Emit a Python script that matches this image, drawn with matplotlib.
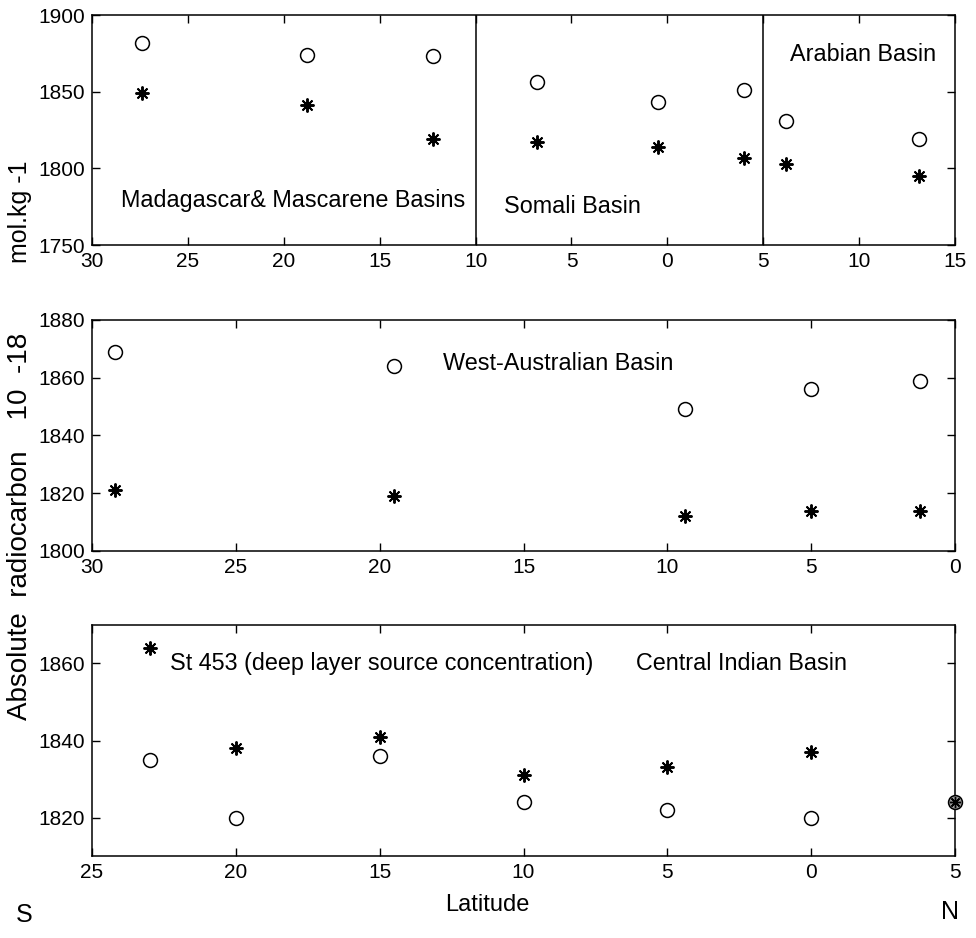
import matplotlib
matplotlib.use("Agg")
import matplotlib.pyplot as plt

# latitude: south negative, north positive
# top panel: Madagascar/Mascarene, Somali, Arabian basins
lat1 = [-27.4, -18.8, -12.2, -6.8, -0.5, 4.0, 6.2, 13.1]
circ1 = [1882, 1874, 1873, 1856, 1843, 1851, 1831, 1819]
star1 = [1849, 1841, 1819, 1817, 1814, 1807, 1803, 1795]

# middle panel: West-Australian basin
lat2 = [-29.2, -19.5, -9.4, -5.0, -1.2]
circ2 = [1869, 1864, 1849, 1856, 1859]
star2 = [1821, 1819, 1812, 1814, 1814]

# bottom panel: Central Indian basin
lat3 = [-23.0, -20.0, -15.0, -10.0, -5.0, 0.0]
circ3 = [1835, 1820, 1836, 1824, 1822, 1820]
star3 = [1864, 1838, 1841, 1831, 1833, 1837]
both_lat = [5.0]
both_val = [1824]

ticks1 = [-30, -25, -20, -15, -10, -5, 0, 5, 10, 15]
ticks2 = [-30, -25, -20, -15, -10, -5, 0]
ticks3 = [-25, -20, -15, -10, -5, 0, 5]
basin_edges = [-10, 5]

plt.rcParams["font.family"] = ["Liberation Sans", "DejaVu Sans"]

fig = plt.figure(figsize=(9.76, 9.38), dpi=100)
ax1 = fig.add_axes([0.0943, 0.7388, 0.8842, 0.2452])
ax2 = fig.add_axes([0.0943, 0.4126, 0.8842, 0.2463])
ax3 = fig.add_axes([0.0943, 0.0874, 0.8842, 0.2463])

asterisk = (8, 2, 0)
LBL = 16.8


def style(ax, ticks, ylim, yticks):
    ax.set_xlim(ticks[0], ticks[-1])
    ax.set_ylim(*ylim)
    ax.set_xticks(ticks)
    ax.set_xticklabels([str(abs(t)) for t in ticks])
    ax.set_yticks(yticks)
    ax.tick_params(direction="in", top=True, right=True, length=6, width=1,
                   labelsize=15, pad=5)
    for s in ax.spines.values():
        s.set_linewidth(1.1)


def pts(ax, lat, circ, star):
    ax.plot(lat, circ, ls="none", marker="o", ms=10, mfc="none", mec="black", mew=1.1)
    ax.plot(lat, star, ls="none", marker=asterisk, ms=10, mec="black", mew=1.4)


pts(ax1, lat1, circ1, star1)
style(ax1, ticks1, (1750, 1900), [1750, 1800, 1850, 1900])
for e in basin_edges:
    ax1.axvline(e, color="black", lw=1.1)
ax1.text(-28.5, 1779, "Madagascar& Mascarene Basins", fontsize=LBL, va="center")
ax1.text(-8.5, 1775, "Somali Basin", fontsize=LBL, va="center")
ax1.text(6.4, 1874, "Arabian Basin", fontsize=LBL, va="center")

pts(ax2, lat2, circ2, star2)
style(ax2, ticks2, (1800, 1880), [1800, 1820, 1840, 1860, 1880])
ax2.text(-17.8, 1865, "West-Australian Basin", fontsize=LBL, va="center")

pts(ax3, lat3, circ3, star3)
ax3.plot(both_lat, both_val, ls="none", marker="o", ms=10, mfc="0.6", mec="black",
         mew=1.1, clip_on=False, zorder=5)
ax3.plot(both_lat, both_val, ls="none", marker=asterisk, ms=8, mec="black",
         mew=1.0, clip_on=False, zorder=6)
style(ax3, ticks3, (1810, 1870), [1820, 1840, 1860])
ax3.text(-22.3, 1860, "St 453 (deep layer source concentration)", fontsize=LBL,
         va="center")
ax3.text(-6.1, 1860, "Central Indian Basin", fontsize=LBL, va="center")

fig.text(0.021, 1 - 526 / 938, "Absolute  radiocarbon    10  -18", rotation=90,
         fontsize=20, ha="center", va="center")
fig.text(0.021, 1 - 212 / 938, "mol.kg -1", rotation=90,
         fontsize=18, ha="center", va="center")
fig.text(487 / 976, 1 - 905 / 938, "Latitude", fontsize=17, ha="center", va="center")
fig.text(24 / 976, 1 - 915 / 938, "S", fontsize=18, ha="center", va="center")
fig.text(950 / 976, 1 - 912 / 938, "N", fontsize=18, ha="center", va="center")

fig.savefig("out.png", dpi=100, facecolor="white")
